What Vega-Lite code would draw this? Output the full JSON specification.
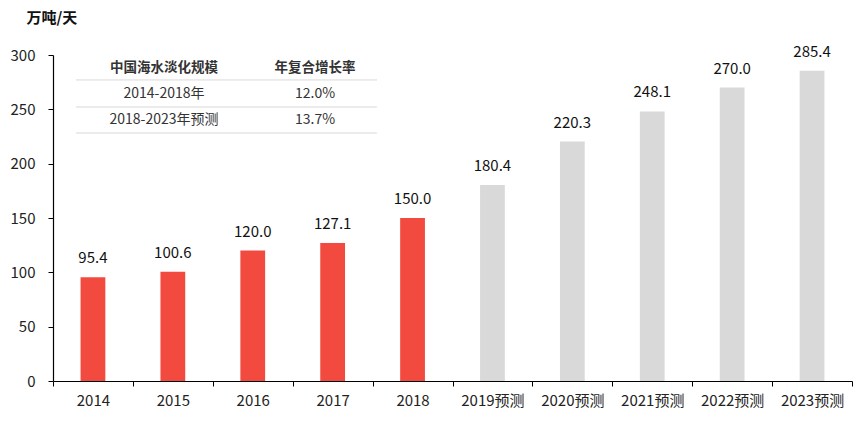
{
  "$schema": "https://vega.github.io/schema/vega-lite/v6.json",
  "width": 799,
  "height": 326,
  "autosize": "none",
  "padding": {"left": 53, "top": 55, "right": 13, "bottom": 44},
  "background": "white",
  "config": {
    "view": {"stroke": null},
    "font": "Noto Sans CJK SC",
    "text": {"font": "Noto Sans CJK SC"}
  },
  "datasets": {
    "bars": [
      {"year": "2014", "value": 95.4, "label": "95.4", "kind": "实际"},
      {"year": "2015", "value": 100.6, "label": "100.6", "kind": "实际"},
      {"year": "2016", "value": 120.0, "label": "120.0", "kind": "实际"},
      {"year": "2017", "value": 127.1, "label": "127.1", "kind": "实际"},
      {"year": "2018", "value": 150.0, "label": "150.0", "kind": "实际"},
      {"year": "2019预测", "value": 180.4, "label": "180.4", "kind": "预测"},
      {"year": "2020预测", "value": 220.3, "label": "220.3", "kind": "预测"},
      {"year": "2021预测", "value": 248.1, "label": "248.1", "kind": "预测"},
      {"year": "2022预测", "value": 270.0, "label": "270.0", "kind": "预测"},
      {"year": "2023预测", "value": 285.4, "label": "285.4", "kind": "预测"}
    ],
    "table": [
      {"row": 0, "col": 0, "text": "中国海水淡化规模", "header": true},
      {"row": 0, "col": 1, "text": "年复合增长率", "header": true},
      {"row": 1, "col": 0, "text": "2014-2018年", "header": false},
      {"row": 1, "col": 1, "text": "12.0%", "header": false},
      {"row": 2, "col": 0, "text": "2018-2023年预测", "header": false},
      {"row": 2, "col": 1, "text": "13.7%", "header": false}
    ],
    "lines": [
      {"row": 0.46},
      {"row": 1.5},
      {"row": 2.5}
    ]
  },
  "layer": [
    {
      "data": {"name": "bars"},
      "encoding": {
        "x": {
          "field": "year",
          "type": "nominal",
          "sort": null,
          "scale": {"paddingInner": 0, "paddingOuter": 0},
          "axis": {
            "title": null,
            "labelAngle": 0,
            "labelFontSize": 15,
            "labelColor": "#222222",
            "labelFont": "Noto Sans CJK SC",
            "labelPadding": 7,
            "tickBand": "extent",
            "tickSize": 5,
            "tickColor": "#000000",
            "domainColor": "#000000",
            "domainWidth": 1.2
          }
        },
        "y": {
          "field": "value",
          "type": "quantitative",
          "scale": {"domain": [0, 300], "nice": false},
          "axis": {
            "values": [0, 50, 100, 150, 200, 250, 300],
            "grid": false,
            "title": "万吨/天",
            "titleAngle": 0,
            "titleAlign": "left",
            "titleBaseline": "middle",
            "titleX": -27,
            "titleY": -38,
            "titleFontSize": 15,
            "titleFontWeight": "bold",
            "titleColor": "#111111",
            "titleFont": "Noto Sans CJK SC",
            "labelFontSize": 15,
            "labelColor": "#222222",
            "labelFont": "Noto Sans CJK SC",
            "labelPadding": 13,
            "tickSize": 5,
            "tickColor": "#000000",
            "domainColor": "#000000",
            "domainWidth": 1.2
          }
        }
      },
      "layer": [
        {
          "mark": {"type": "bar", "width": {"band": 0.31}},
          "encoding": {
            "color": {
              "field": "kind",
              "type": "nominal",
              "scale": {"domain": ["实际", "预测"], "range": ["#F24A3F", "#D9D9D9"]},
              "legend": null
            }
          }
        },
        {
          "mark": {"type": "text", "baseline": "middle", "dy": -19, "fontSize": 15, "color": "#111111", "font": "Noto Sans CJK SC"},
          "encoding": {"text": {"field": "label", "type": "nominal"}}
        }
      ]
    },
    {
      "layer": [
        {
          "data": {"name": "table"},
          "transform": [{"filter": "datum.header"}],
          "mark": {"type": "text", "fontSize": 13.5, "fontWeight": "bold", "color": "#333333", "baseline": "middle", "font": "Noto Sans CJK SC"},
          "encoding": {
            "x": {"field": "col", "type": "quantitative", "scale": {"domain": [-0.735, 4.555]}, "axis": null},
            "y": {"field": "row", "type": "quantitative", "scale": {"domain": [-0.5, 12.04], "reverse": true, "nice": false, "zero": false}, "axis": null},
            "text": {"field": "text", "type": "nominal"}
          }
        },
        {
          "data": {"name": "table"},
          "transform": [{"filter": "!datum.header"}],
          "mark": {"type": "text", "fontSize": 14, "color": "#333333", "baseline": "middle", "font": "Noto Sans CJK SC"},
          "encoding": {
            "x": {"field": "col", "type": "quantitative", "scale": {"domain": [-0.735, 4.555]}, "axis": null},
            "y": {"field": "row", "type": "quantitative", "scale": {"domain": [-0.5, 12.04], "reverse": true, "nice": false, "zero": false}, "axis": null},
            "text": {"field": "text", "type": "nominal"}
          }
        },
        {
          "data": {"name": "lines"},
          "mark": {"type": "rule", "color": "#D9D9D9", "strokeWidth": 1},
          "encoding": {
            "x": {"datum": -0.583, "type": "quantitative", "scale": {"domain": [-0.735, 4.555]}, "axis": null},
            "x2": {"datum": 1.41},
            "y": {"field": "row", "type": "quantitative", "scale": {"domain": [-0.5, 12.04], "reverse": true, "nice": false, "zero": false}, "axis": null}
          }
        }
      ]
    }
  ],
  "resolve": {"scale": {"x": "independent", "y": "independent"}, "axis": {"x": "independent", "y": "independent"}}
}
